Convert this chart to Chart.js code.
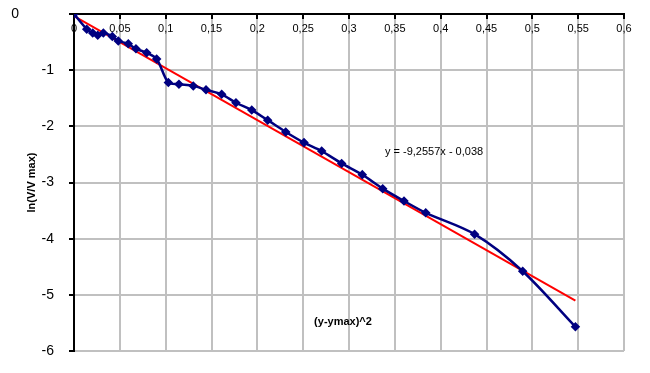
<!DOCTYPE html>
<html>
<head>
<meta charset="utf-8">
<script src="https://cdn.jsdelivr.net/npm/chart.js@4/dist/chart.umd.min.js"></script>
<style>
  html, body { margin: 0; padding: 0; background: #fff; }
  #wrap { width: 650px; height: 373px; position: relative; }
</style>
</head>
<body>
<div id="wrap"><canvas id="chart"></canvas></div>
<script>
// measured points, (y-ymax)^2 vs ln(V/Vmax)
var xValues = [0, 0.0139, 0.0204, 0.0259, 0.032, 0.0418, 0.0483, 0.0592, 0.0676, 0.0793, 0.0902,
  0.1029, 0.1145, 0.1301, 0.144, 0.1611, 0.1767, 0.1939, 0.2113, 0.231, 0.2509, 0.2702,
  0.292, 0.3145, 0.3368, 0.36, 0.3837, 0.437, 0.4895, 0.547];
var yValues = [0, -0.27, -0.34, -0.38, -0.34, -0.40, -0.48, -0.53, -0.62, -0.69, -0.80,
  -1.22, -1.25, -1.28, -1.35, -1.43, -1.58, -1.71, -1.89, -2.10, -2.29, -2.44,
  -2.66, -2.86, -3.11, -3.33, -3.54, -3.92, -4.58, -5.57];
// linear trendline ends
var trendX = [0, 0.547];
var trendY = [-0.038, -5.101];
var equationText = "y = -9,2557x - 0,038";
var xTitle = "(y-ymax)^2";
var yTitle = "ln(V/V max)";

var font = "'Liberation Sans', Arial, sans-serif";

function pts(xs, ys){
  var out = [];
  for (var i = 0; i < xs.length; i++) out.push({x: xs[i], y: ys[i]});
  return out;
}

var textPlugin = {
  id: "texts",
  afterDraw: function(chart){
    var ctx = chart.ctx, a = chart.chartArea;
    ctx.save();
    ctx.fillStyle = "#000";
    ctx.textBaseline = "middle";
    ctx.textAlign = "left";
    ctx.font = "11px " + font;
    ctx.fillText(equationText, a.left + 311, 152);
    ctx.textAlign = "center";
    ctx.font = "bold 11px " + font;
    ctx.fillText(xTitle, a.left + 269, 322);
    ctx.restore();
  }
};

new Chart(document.getElementById("chart"), {
  type: "scatter",
  data: {
    datasets: [{
      data: pts(xValues, yValues),
      showLine: true,
      borderColor: "#000080",
      backgroundColor: "#000080",
      borderWidth: 2.5,
      tension: 0.3,
      pointStyle: "rectRot",
      pointRadius: 3,
      pointHoverRadius: 3
    }, {
      data: pts(trendX, trendY),
      showLine: true,
      borderColor: "#ff0000",
      borderWidth: 2,
      pointRadius: 0
    }]
  },
  options: {
    responsive: true,
    maintainAspectRatio: false,
    animation: false,
    layout: { padding: { left: 0, top: 14, right: 26, bottom: 22 } },
    plugins: { legend: { display: false }, tooltip: { enabled: false } },
    scales: {
      x: {
        type: "linear",
        position: { y: 0 },
        min: 0, max: 0.6,
        grid: {
          color: function(c){ return c.tick && c.tick.value === 0 ? "rgba(0,0,0,0)" : "#c0c0c0"; },
          lineWidth: 2,
          tickColor: "#000",
          tickLength: 4
        },
        border: { color: "#000", width: 2 },
        ticks: {
          stepSize: 0.05,
          padding: 4,
          maxRotation: 0,
          autoSkip: false,
          color: "#000",
          font: { family: font, size: 11 },
          callback: function(v){ return String(Math.round(v * 100) / 100).replace(".", ","); }
        }
      },
      y: {
        min: -6, max: 0,
        position: "left",
        afterFit: function(s){
          s.width = 74;
          // keep tick padding from pushing the plot area in
          s.paddingTop = 0;
          s.paddingBottom = 0;
        },
        grid: {
          color: function(c){ return c.tick && c.tick.value === 0 ? "rgba(0,0,0,0)" : "#c0c0c0"; },
          lineWidth: 2,
          tickColor: "#000",
          tickLength: 5
        },
        border: { color: "#000", width: 2 },
        ticks: {
          stepSize: 1,
          padding: 15,
          color: "#000",
          font: { family: font, size: 14 },
          // the zero label sits far left in the original
          callback: function(v){ return v === 0 ? "0         " : String(v); }
        },
        title: {
          display: true,
          text: yTitle,
          color: "#000",
          font: { family: font, size: 11, weight: "bold" },
          padding: { top: 25, bottom: 0 }
        }
      }
    }
  },
  plugins: [textPlugin]
});
</script>
</body>
</html>
